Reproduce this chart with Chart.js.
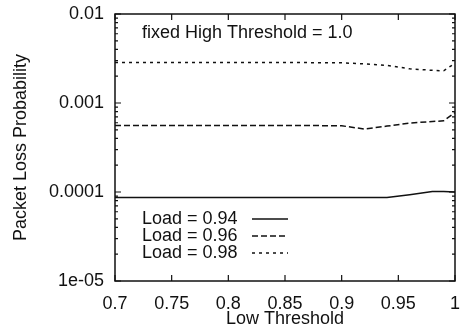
<!DOCTYPE html>
<html>
<head>
<meta charset="utf-8">
<script src="https://cdn.jsdelivr.net/npm/chart.js@4"></script>
<style>
  html, body { margin: 0; padding: 0; background: #fff; }
  #wrap { width: 460px; height: 327px; }
</style>
</head>
<body>
<div id="wrap"><canvas id="chart" width="460" height="327"></canvas></div>
<script>
const lowThreshold = [0.7, 0.75, 0.8, 0.85, 0.9, 0.92, 0.94, 0.96, 0.98, 0.99, 1.0];
const load094 = [8.65e-5, 8.65e-5, 8.65e-5, 8.65e-5, 8.65e-5, 8.65e-5, 8.65e-5, 9.3e-5, 1.01e-4, 1.01e-4, 1.0e-4];
const load096 = [5.6e-4, 5.6e-4, 5.6e-4, 5.6e-4, 5.55e-4, 5.1e-4, 5.5e-4, 5.95e-4, 6.2e-4, 6.3e-4, 7.8e-4];
const load098 = [2.85e-3, 2.85e-3, 2.85e-3, 2.85e-3, 2.83e-3, 2.75e-3, 2.65e-3, 2.42e-3, 2.33e-3, 2.3e-3, 2.8e-3];
const seriesLabels = ["Load = 0.94", "Load = 0.96", "Load = 0.98"];
const xTicks = [0.7, 0.75, 0.8, 0.85, 0.9, 0.95, 1.0];
const xTickLabels = ["0.7", "0.75", "0.8", "0.85", "0.9", "0.95", "1"];
const yTicks = [1e-5, 1e-4, 1e-3, 1e-2];
const yTickLabels = ["1e-05", "0.0001", "0.001", "0.01"];

const FONT = "'Liberation Sans', Arial, sans-serif";
const INK = "#111";

function points(values) {
  return lowThreshold.map((x, i) => ({ x: x, y: values[i] }));
}

// frame, inward ticks, note and legend (line sample after the text)
const decor = {
  id: "decor",
  afterDraw(chart) {
    const c = chart.ctx;
    const a = chart.chartArea;
    const xs = chart.scales.x, ys = chart.scales.y;
    c.save();
    c.strokeStyle = INK;
    c.lineWidth = 1.5;
    c.strokeRect(a.left, a.top, a.right - a.left, a.bottom - a.top);
    c.lineWidth = 1.2;
    c.beginPath();
    xTicks.forEach(v => {
      const px = xs.getPixelForValue(v);
      c.moveTo(px, a.bottom); c.lineTo(px, a.bottom - 6);
      c.moveTo(px, a.top); c.lineTo(px, a.top + 6);
    });
    for (let d = 0; d < yTicks.length; d++) {
      const py = ys.getPixelForValue(yTicks[d]);
      c.moveTo(a.left, py); c.lineTo(a.left + 6, py);
      c.moveTo(a.right, py); c.lineTo(a.right - 6, py);
      if (d < yTicks.length - 1) {
        for (let k = 2; k <= 9; k++) {
          const pm = ys.getPixelForValue(yTicks[d] * k);
          c.moveTo(a.left, pm); c.lineTo(a.left + 3, pm);
          c.moveTo(a.right, pm); c.lineTo(a.right - 3, pm);
        }
      }
    }
    c.stroke();

    c.fillStyle = INK;
    c.font = "18px " + FONT;
    c.textBaseline = "middle";
    c.textAlign = "left";
    c.fillText("fixed High Threshold = 1.0", a.left + 27, a.top + 19);

    const rows = [219, 236, 253];
    chart.data.datasets.forEach((ds, i) => {
      c.fillText(ds.label, a.left + 27, rows[i]);
      c.setLineDash(ds.borderDash || []);
      c.lineWidth = 1.4;
      c.beginPath();
      c.moveTo(a.left + 137, rows[i]); c.lineTo(a.left + 173, rows[i]);
      c.stroke();
    });
    c.restore();
  }
};

new Chart(document.getElementById("chart"), {
  type: "scatter",
  data: {
    datasets: [
      { label: seriesLabels[0], data: points(load094), borderDash: [] },
      { label: seriesLabels[1], data: points(load096), borderDash: [6, 3] },
      { label: seriesLabels[2], data: points(load098), borderDash: [3, 4] },
    ].map(ds => Object.assign(ds, {
      showLine: true,
      borderColor: INK,
      borderWidth: 1.5,
      pointRadius: 0,
      fill: false,
      tension: 0,
    })),
  },
  options: {
    responsive: false,
    animation: false,
    layout: { padding: { top: 14, right: 5, left: 0, bottom: 0 } },
    scales: {
      x: {
        type: "linear",
        min: 0.7,
        max: 1.0,
        grid: { display: false, drawTicks: false },
        border: { display: false },
        afterBuildTicks: s => { s.ticks = xTicks.map(v => ({ value: v })); },
        afterFit: s => { s.height = 46; s.paddingLeft = 0; s.paddingRight = 0; },
        ticks: {
          color: INK,
          padding: 12,
          font: { family: FONT, size: 18 },
          callback: v => xTickLabels[xTicks.indexOf(v)],
        },
        title: {
          display: true,
          text: "Low Threshold",
          color: INK,
          font: { family: FONT, size: 18, lineHeight: 1 },
          padding: { top: 0, bottom: -1 },
        },
      },
      y: {
        type: "logarithmic",
        min: 1e-5,
        max: 1e-2,
        grid: { display: false, drawTicks: false },
        border: { display: false },
        afterBuildTicks: s => { s.ticks = yTicks.map(v => ({ value: v })); },
        afterFit: s => { s.width = 115; s.paddingTop = 0; s.paddingBottom = 0; },
        ticks: {
          color: INK,
          padding: 11,
          autoSkip: false,
          font: { family: FONT, size: 18 },
          callback: v => yTickLabels[yTicks.indexOf(v)],
        },
        title: {
          display: true,
          text: "Packet Loss Probability",
          color: INK,
          font: { family: FONT, size: 18, lineHeight: 1 },
          padding: { top: 12, bottom: 0 },
        },
      },
    },
    plugins: {
      legend: { display: false },
      tooltip: { enabled: false },
    },
  },
  plugins: [decor],
});
</script>
</body>
</html>
